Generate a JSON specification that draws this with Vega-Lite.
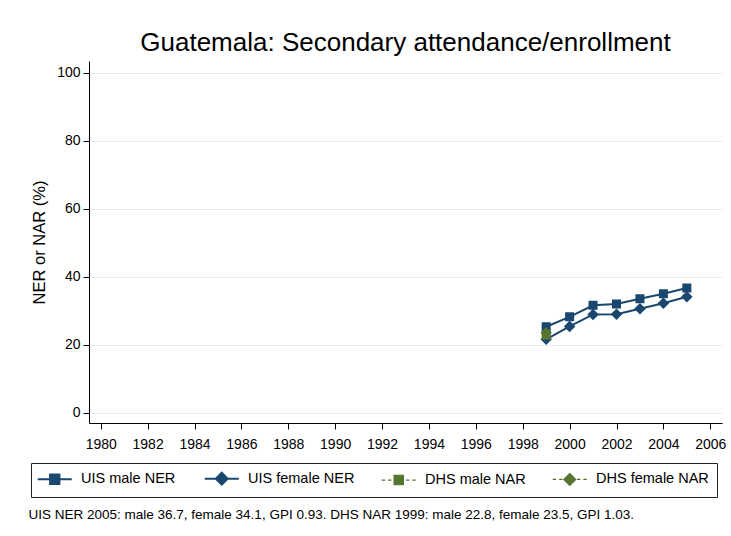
{
  "$schema": "https://vega.github.io/schema/vega-lite/v6.json",
  "autosize": "none",
  "width": 633,
  "height": 362,
  "padding": {"left": 89, "top": 61, "right": 9, "bottom": 113},
  "background": "white",
  "title": {
    "text": "Guatemala: Secondary attendance/enrollment",
    "fontSize": 26,
    "font": "Liberation Sans",
    "fontWeight": "normal",
    "color": "black",
    "anchor": "middle",
    "baseline": "alphabetic",
    "offset": 10,
    "dy": 26
  },
  "config": {
    "view": {"stroke": null},
    "font": "Liberation Sans",
    "axis": {
      "labelFont": "Liberation Sans",
      "titleFont": "Liberation Sans",
      "labelColor": "black",
      "titleColor": "black",
      "domainColor": "black",
      "tickColor": "black",
      "titleFontWeight": "normal"
    }
  },
  "data": {
    "values": [
      {"year": 1999, "value": 25.3, "series": "UIS male NER"},
      {"year": 2000, "value": 28.2, "series": "UIS male NER"},
      {"year": 2001, "value": 31.6, "series": "UIS male NER"},
      {"year": 2002, "value": 32.0, "series": "UIS male NER"},
      {"year": 2003, "value": 33.5, "series": "UIS male NER"},
      {"year": 2004, "value": 35.0, "series": "UIS male NER"},
      {"year": 2005, "value": 36.7, "series": "UIS male NER"},
      {"year": 1999, "value": 21.6, "series": "UIS female NER"},
      {"year": 2000, "value": 25.4, "series": "UIS female NER"},
      {"year": 2001, "value": 28.9, "series": "UIS female NER"},
      {"year": 2002, "value": 29.0, "series": "UIS female NER"},
      {"year": 2003, "value": 30.6, "series": "UIS female NER"},
      {"year": 2004, "value": 32.2, "series": "UIS female NER"},
      {"year": 2005, "value": 34.1, "series": "UIS female NER"},
      {"year": 1999, "value": 22.8, "series": "DHS male NAR"},
      {"year": 1999, "value": 23.5, "series": "DHS female NAR"}
    ]
  },
  "encoding": {
    "x": {
      "field": "year",
      "type": "quantitative",
      "scale": {"domain": [1979.5, 2006.5], "nice": false, "zero": false},
      "axis": {
        "values": [1980, 1982, 1984, 1986, 1988, 1990, 1992, 1994, 1996, 1998, 2000, 2002, 2004, 2006],
        "format": "d",
        "grid": false,
        "tickSize": 6,
        "labelFontSize": 14,
        "labelPadding": 8,
        "labelOverlap": false,
        "labelFlush": false,
        "title": "UIS NER 2005: male 36.7, female 34.1, GPI 0.93. DHS NAR 1999: male 22.8, female 23.5, GPI 1.03.",
        "titleFontSize": 13.5,
        "titleAlign": "left",
        "titleAnchor": "start",
        "titleBaseline": "alphabetic",
        "titleX": -61,
        "titleY": 95
      }
    },
    "y": {
      "field": "value",
      "type": "quantitative",
      "scale": {"domain": [-3, 103.4], "nice": false, "zero": false},
      "axis": {
        "values": [0, 20, 40, 60, 80, 100],
        "grid": true,
        "gridColor": "#e4edf1",
        "gridWidth": 1,
        "tickSize": 6,
        "labelFontSize": 14,
        "labelPadding": 3,
        "title": "NER or NAR (%)",
        "titleFontSize": 16.5,
        "titlePadding": 9
      }
    },
    "color": {
      "field": "series",
      "type": "nominal",
      "scale": {
        "domain": ["UIS male NER", "UIS female NER", "DHS male NAR", "DHS female NAR"],
        "range": ["#1a476f", "#1a476f", "#55752f", "#55752f"]
      },
      "legend": {
        "title": null,
        "orient": "none",
        "legendX": -58,
        "legendY": 402,
        "direction": "horizontal",
        "columns": 4,
        "columnPadding": 24,
        "padding": 8,
        "strokeColor": "#222222",
        "fillColor": "white",
        "symbolSize": 289,
        "symbolOffset": 8.5,
        "symbolStrokeWidth": 2,
        "symbolStrokeColor": "#1a476f",
        "labelFontSize": 14.5,
        "labelFont": "Liberation Sans",
        "labelColor": "black",
        "labelOffset": 19,
        "labelLimit": 300,
        "encode": {
          "symbols": {
            "update": {
              "stroke": {"signal": "(datum.label == 'DHS male NAR' || datum.label == 'DHS female NAR') ? '#55752f' : '#1a476f'"},
              "strokeWidth": {"signal": "(datum.label == 'DHS male NAR' || datum.label == 'DHS female NAR') ? 1.2 : 2"}
            }
          }
        }
      }
    }
  },
  "layer": [
    {
      "transform": [{"filter": "datum.series == 'UIS male NER' || datum.series == 'UIS female NER'"}],
      "mark": {"type": "line", "strokeWidth": 2}
    },
    {
      "mark": {"type": "point", "filled": true, "opacity": 1, "size": 270},
      "encoding": {
        "shape": {
          "field": "series",
          "type": "nominal",
          "scale": {
            "domain": ["UIS male NER", "UIS female NER", "DHS male NAR", "DHS female NAR"],
            "range": [
              "M-2,0H2M-0.55,-0.55H0.55V0.55H-0.55Z",
              "M-2,0H2M0,-0.7L0.7,0L0,0.7L-0.7,0Z",
              "M-2,0H-1.6M-1.25,0H-0.85M0.85,0H1.25M1.6,0H2M-0.55,-0.55H0.55V0.55H-0.55Z",
              "M-2,0H-1.6M-1.25,0H-0.85M0.85,0H1.25M1.6,0H2M0,-0.7L0.7,0L0,0.7L-0.7,0Z"
            ]
          },
          "legend": null
        }
      }
    }
  ]
}
